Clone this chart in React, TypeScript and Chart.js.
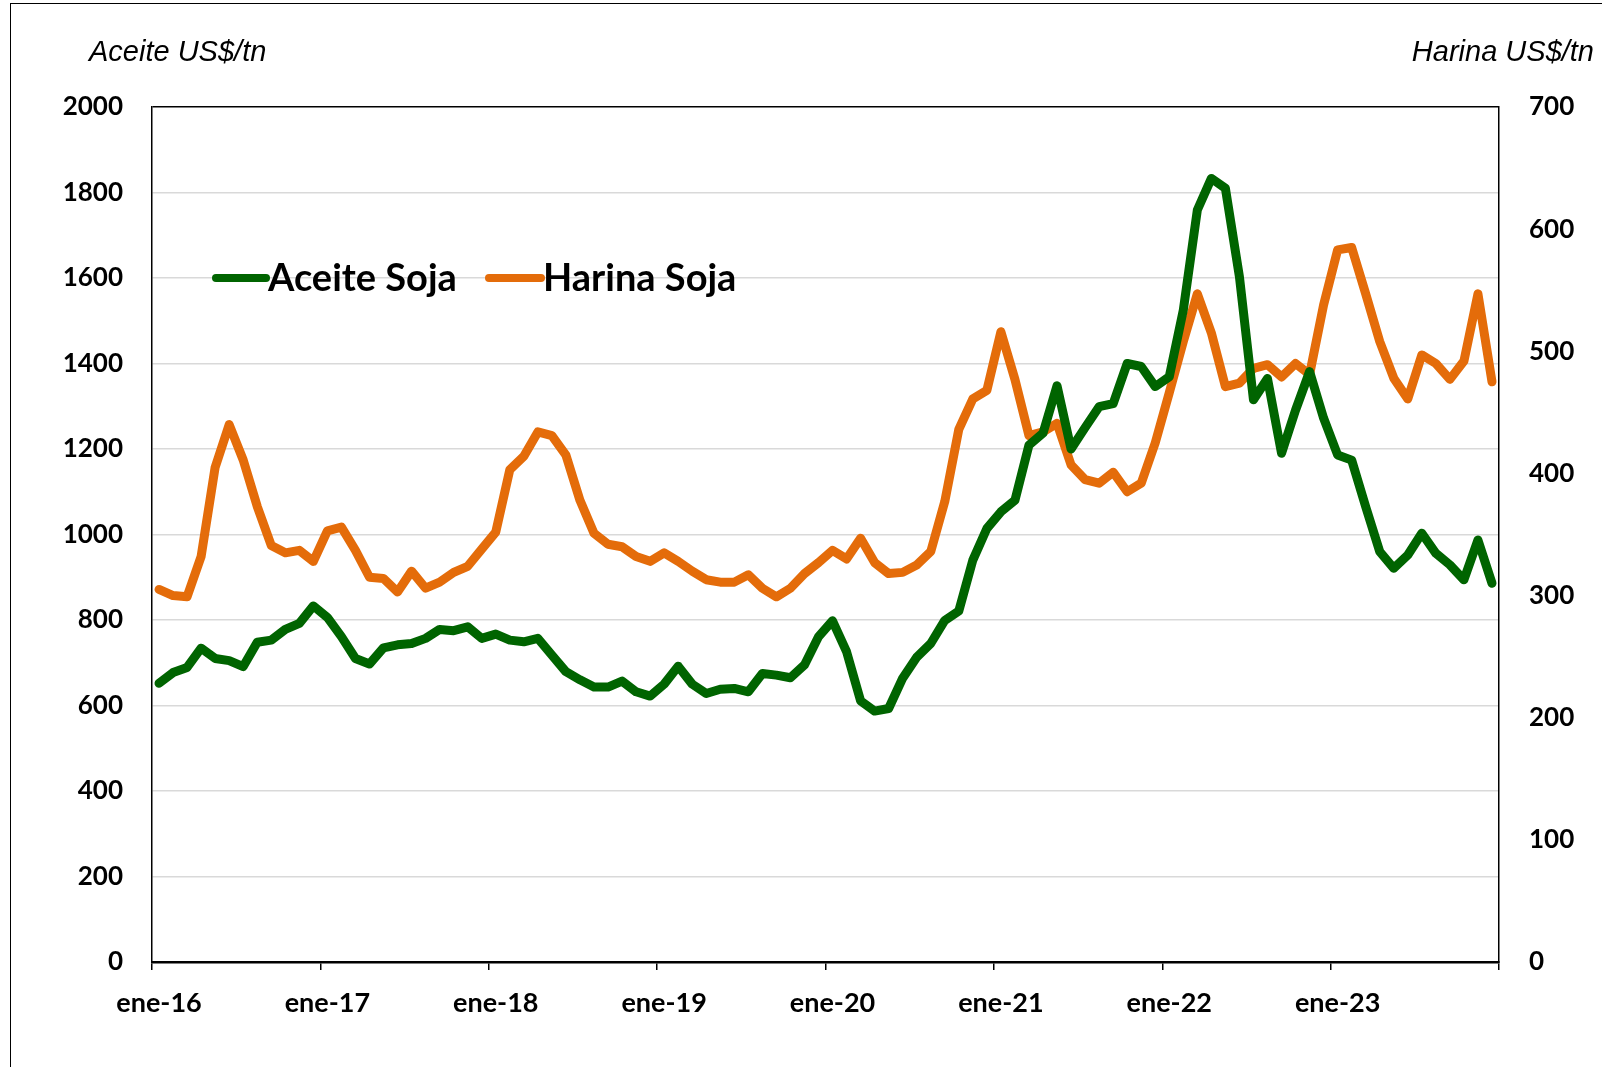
import React, { useEffect, useRef } from "react";
import { Chart, registerables } from "chart.js";

Chart.register(...registerables);

const MONTHS = ["ene", "feb", "mar", "abr", "may", "jun", "jul", "ago", "sep", "oct", "nov", "dic"];
const YEARS = ["16", "17", "18", "19", "20", "21", "22", "23"];
const CATEGORIES = YEARS.flatMap((y) => MONTHS.map((m) => `${m}-${y}`));

// Aceite Soja, US$/tn (left axis)
const ACEITE = [
  652, 677, 689, 734, 710, 705, 691, 748, 753, 778, 792, 833,
  806, 761, 710, 697, 735, 742, 745, 757, 778, 775, 784, 757,
  767, 753, 749, 757, 718, 679, 660, 643, 643, 657, 632, 622,
  650, 692, 650, 628, 638, 640, 632, 675, 671, 665, 695, 761,
  798, 726, 611, 587, 593, 664, 713, 745, 799, 821, 940, 1014,
  1053, 1080, 1209, 1237, 1348, 1200, 1250, 1299, 1306, 1400, 1393, 1346,
  1369, 1525, 1759, 1833, 1810, 1603, 1315, 1365, 1190, 1291, 1381, 1272,
  1186, 1174, 1065, 960, 921, 952, 1003, 956, 929, 894, 987, 886,
];

// Harina Soja, US$/tn (right axis)
const HARINA = [
  305, 300, 299, 332, 405, 440, 411, 373, 341, 335, 337, 328,
  353, 356, 337, 315, 314, 303, 320, 306, 311, 319, 324, 338,
  352, 403, 414, 434, 431, 415, 378, 351, 342, 340, 332, 328,
  335, 328, 320, 313, 311, 311, 317, 306, 299, 306, 318, 327,
  337, 330, 347, 327, 318, 319, 325, 336, 377, 436, 461, 468,
  516, 477, 431, 434, 441, 407, 395, 392, 401, 385, 392, 425,
  466, 508, 547, 515, 471, 474, 486, 489, 479, 490, 481, 538,
  583, 585, 547, 508, 478, 461, 497, 490, 477, 492, 547, 475,
];

const LEFT_TICKS = { min: 0, max: 2000, step: 200 };
const RIGHT_TICKS = { min: 0, max: 700, step: 100 };

const SERIES_NAMES = ["Aceite Soja", "Harina Soja"];
const AXIS_TITLES = ["Aceite US$/tn", "Harina US$/tn"];

const GREEN = "#006400";
const ORANGE = "#E46C0A";

const TICK_FONT = { family: "Lato, 'Open Sans', sans-serif", weight: "bold" as const, size: 26 };
const X_TICK_FONT = { family: "Lato, 'Open Sans', sans-serif", weight: "bold" as const, size: 27 };

const overlayPlugin = {
  id: "overlay",
  afterDraw(chart: any) {
    const ctx = chart.ctx as CanvasRenderingContext2D;
    const area = chart.chartArea;
    ctx.save();
    // axis titles
    ctx.fillStyle = "#000";
    ctx.font = "italic 29px 'Liberation Sans', Arial, sans-serif";
    ctx.textBaseline = "alphabetic";
    ctx.textAlign = "left";
    ctx.fillText(AXIS_TITLES[0], 89, 61);
    ctx.textAlign = "right";
    ctx.fillText(AXIS_TITLES[1], 1594, 61);

    // legend
    const yPix = chart.scales.y.getPixelForValue(1600);
    const items = [
      { color: GREEN, name: SERIES_NAMES[0], x0: area.left + 64, x1: area.left + 114 },
      { color: ORANGE, name: SERIES_NAMES[1], x0: area.left + 337, x1: area.left + 389 },
    ];
    ctx.font = "bold 38px Lato, 'Open Sans', sans-serif";
    ctx.textAlign = "left";
    ctx.textBaseline = "middle";
    for (const it of items) {
      ctx.strokeStyle = it.color;
      ctx.lineWidth = 8;
      ctx.lineCap = "round";
      ctx.beginPath();
      ctx.moveTo(it.x0, yPix);
      ctx.lineTo(it.x1, yPix);
      ctx.stroke();
      ctx.fillStyle = "#000";
      ctx.fillText(it.name, it.x1 + 2, yPix + 1);
    }
    ctx.restore();
  },
};

export default function App() {
  const canvasRef = useRef<HTMLCanvasElement | null>(null);

  useEffect(() => {
    const canvas = canvasRef.current;
    if (!canvas) return;
    const chart = new Chart(canvas, {
      type: "line",
      data: {
        labels: CATEGORIES,
        datasets: [
          {
            label: SERIES_NAMES[0],
            data: ACEITE,
            borderColor: GREEN,
            backgroundColor: GREEN,
            borderWidth: 9,
            pointRadius: 0,
            borderJoinStyle: "round",
            borderCapStyle: "round",
            tension: 0,
            yAxisID: "y",
          },
          {
            label: SERIES_NAMES[1],
            data: HARINA,
            borderColor: ORANGE,
            backgroundColor: ORANGE,
            borderWidth: 9,
            pointRadius: 0,
            borderJoinStyle: "round",
            borderCapStyle: "round",
            tension: 0,
            yAxisID: "y1",
          },
        ],
      },
      options: {
        responsive: false,
        animation: false,
        devicePixelRatio: 1,
        layout: { padding: { top: 107, left: 0, right: 0, bottom: 0 } },
        plugins: {
          legend: { display: false },
          tooltip: { enabled: false },
        },
        scales: {
          x: {
            type: "category",
            offset: true,
            grid: {
              offset: true,
              drawOnChartArea: false,
              drawTicks: true,
              tickLength: 8,
              lineWidth: 1.5,
              tickColor: (c: any) =>
                c.type !== "tick" || c.index % 12 === 0 ? "#000" : "rgba(0,0,0,0)",
            },
            border: { display: true, color: "#000", width: 2.5 },
            ticks: {
              autoSkip: false,
              maxRotation: 0,
              minRotation: 0,
              padding: 17,
              color: "#000",
              font: X_TICK_FONT,
              callback: function (this: any, val: any, index: number) {
                return index % 12 === 0 ? this.getLabelForValue(val) : "";
              },
            },
            afterFit: (scale: any) => {
              scale.height = 105;
            },
          },
          y: {
            position: "left",
            min: LEFT_TICKS.min,
            max: LEFT_TICKS.max,
            grid: {
              drawTicks: false,
              color: (c: any) => (c.tick && c.tick.value === LEFT_TICKS.max ? "#000" : "#d9d9d9"),
              lineWidth: 1.5,
            },
            border: { display: true, color: "#000", width: 1.5 },
            ticks: {
              stepSize: LEFT_TICKS.step,
              padding: 29,
              color: "#000",
              font: TICK_FONT,
              callback: (v: any) => String(v),
            },
            afterFit: (scale: any) => {
              scale.width = 152;
            },
          },
          y1: {
            position: "right",
            min: RIGHT_TICKS.min,
            max: RIGHT_TICKS.max,
            grid: { drawOnChartArea: false, drawTicks: false },
            border: { display: true, color: "#000", width: 1.5 },
            ticks: {
              stepSize: RIGHT_TICKS.step,
              padding: 30,
              color: "#000",
              font: TICK_FONT,
              callback: (v: any) => String(v),
            },
            afterFit: (scale: any) => {
              scale.width = 103;
            },
          },
        },
      } as any,
      plugins: [overlayPlugin],
    });
    return () => chart.destroy();
  }, []);

  return (
    <div
      style={{
        position: "fixed",
        left: 0,
        top: 0,
        width: 1602,
        height: 1067,
        overflow: "hidden",
        background: "#fff",
      }}
    >
      <div
        style={{
          position: "absolute",
          left: 10,
          top: 3,
          width: 1700,
          height: 1200,
          border: "1.5px solid #000",
          boxSizing: "border-box",
        }}
      />
      <canvas
        ref={canvasRef}
        width={1602}
        height={1067}
        style={{ position: "absolute", left: 0, top: 0, width: 1602, height: 1067 }}
      />
    </div>
  );
}
